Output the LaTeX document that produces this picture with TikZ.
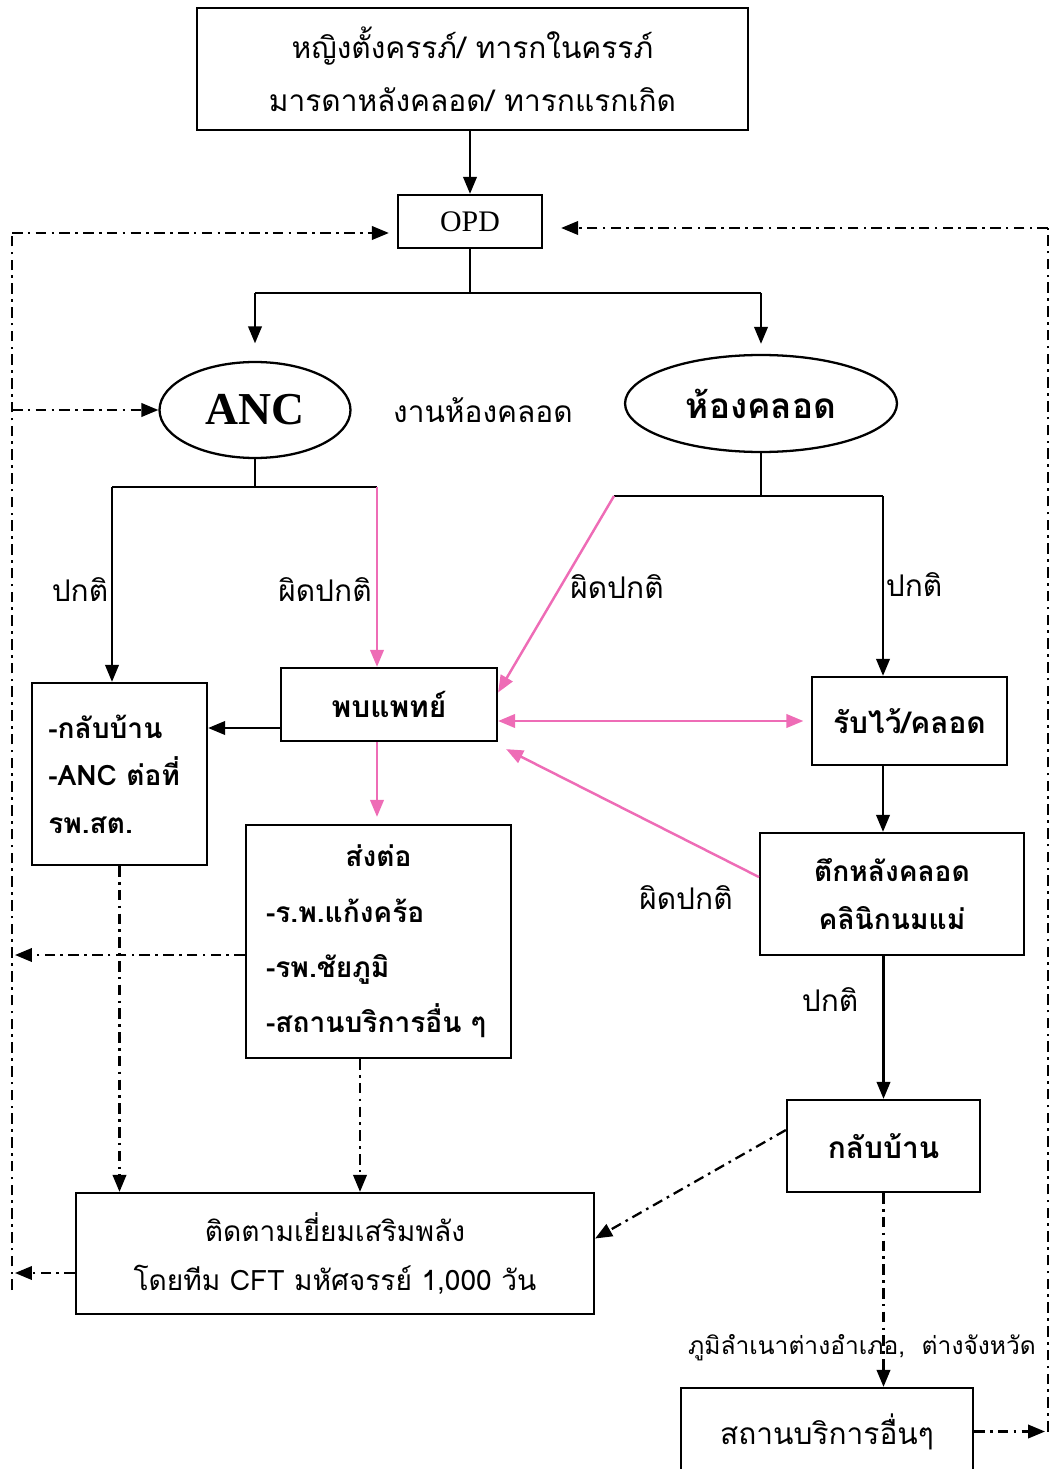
\documentclass[tikz,border=0pt]{standalone}
\usepackage{fontspec}
\setmainfont[Script=Thai]{Loma}
\newfontfamily\romanfont{Liberation Serif}
\usetikzlibrary{arrows.meta,shapes.geometric}
\definecolor{pinkline}{RGB}{238,108,182}

\tikzset{
  box/.style={draw, line width=1.3pt, inner sep=4pt, align=center},
  txt/.style={font=\fontsize{17}{28}\selectfont},
  arr/.style={-{Triangle[length=0.34cm,width=0.27cm]}},
  pinkarr/.style={draw=pinkline, line width=1.4pt, -{Triangle[length=0.34cm,width=0.27cm]}, pinkline},
  dd/.style={line width=1.3pt, dash pattern=on 6pt off 3pt on 1.5pt off 3pt},
  ddarr/.style={dd, -{Triangle[length=0.34cm,width=0.27cm]}},
}

\begin{document}
\begin{tikzpicture}[
  x=0.02cm, y=-0.02cm, line width=1.3pt
]
  \useasboundingbox (0,0) rectangle (1052,1469);

  % boxes
  \node[box, txt, minimum width=11.02cm, minimum height=2.44cm,
        font=\fontsize{17}{30}\selectfont] (top) at (472.5,69)
        {หญิงตั้งครรภ์/ ทารกในครรภ์\\มารดาหลังคลอด/ ทารกแรกเกิด};
  \node[box, minimum width=2.88cm, minimum height=1.06cm,
        font=\romanfont\fontsize{17}{20}\selectfont] (opd) at (470,221.5) {OPD};
  \node[draw, ellipse, line width=1.3pt, minimum width=3.82cm, minimum height=1.92cm,
        font=\romanfont\bfseries\fontsize{26}{30}\selectfont] (anc) at (255,410) {ANC};
  \node[txt] (ward label) at (483,410) {งานห้องคลอด};
  \node[draw, ellipse, line width=1.3pt, minimum width=5.44cm, minimum height=1.94cm,
        txt, font=\bfseries\fontsize{20}{24}\selectfont] (lr) at (761,403.5) {ห้องคลอด};

  \node[box, txt, align=left, minimum width=3.5cm, minimum height=3.64cm,
        text width=2.85cm, font=\bfseries\fontsize{16}{27}\selectfont] (home) at (119.5,774)
        {-กลับบ้าน\\-ANC ต่อที่\\รพ.สต.};
  \node[box, minimum width=4.32cm, minimum height=1.46cm,
        font=\bfseries\fontsize{17}{24}\selectfont] (doc) at (389,704.5) {พบแพทย์};
  \node[box, minimum width=3.9cm, minimum height=1.76cm,
        font=\bfseries\fontsize{17}{24}\selectfont] (admit) at (909.5,721) {รับไว้/คลอด};
  \node[box, minimum width=5.28cm, minimum height=2.44cm,
        font=\bfseries\fontsize{16}{27}\selectfont] (postnatal) at (892,894)
        {ตึกหลังคลอด\\คลินิกนมแม่};
  \node[box, minimum width=5.3cm, minimum height=4.66cm, text width=4.5cm, align=left,
        font=\bfseries\fontsize{16}{31.5}\selectfont] (refer) at (378.5,941.5)
        {\centering ส่งต่อ\par\raggedright -ร.พ.แก้งคร้อ\\-รพ.ชัยภูมิ\\-สถานบริการอื่น ๆ};
  \node[box, minimum width=3.86cm, minimum height=1.84cm,
        font=\bfseries\fontsize{17}{24}\selectfont] (home2) at (883.5,1146) {กลับบ้าน};
  \node[box, minimum width=10.36cm, minimum height=2.42cm,
        font=\fontsize{16}{28}\selectfont] (follow) at (335,1253.5)
        {ติดตามเยี่ยมเสริมพลัง\\โดยทีม CFT มหัศจรรย์ 1,000 วัน};
  \node[box, minimum width=5.84cm, minimum height=1.74cm,
        font=\fontsize{17}{24}\selectfont] (other) at (827,1431.5) {สถานบริการอื่นๆ};

  % labels
  \node[txt] (normal1) at (80,590) {ปกติ};
  \node[txt] (abnormal1) at (325,590) {ผิดปกติ};
  \node[txt] (abnormal2) at (617,587) {ผิดปกติ};
  \node[txt] (normal2) at (914,585) {ปกติ};
  \node[txt] (abnormal3) at (686,898) {ผิดปกติ};
  \node[txt] (normal3) at (830,1000) {ปกติ};
  \node[font=\fontsize{14}{20}\selectfont] (hometown) at (862,1348)
        {ภูมิลำเนาต่างอำเภอ,\ \ ต่างจังหวัด};

  % junctions
  \coordinate (opdfork) at (470,293);
  \coordinate (forkL) at (255,293);
  \coordinate (forkR) at (761,293);
  \coordinate (ancfork) at (255,487);
  \coordinate (ancL) at (112,487);
  \coordinate (ancR) at (377,487);
  \coordinate (lrfork) at (761,496);
  \coordinate (lrL) at (614,496);
  \coordinate (lrR) at (883,496);
  \coordinate (lt) at (12,233);
  \coordinate (lb) at (12,1290);
  \coordinate (rt) at (1048,228);
  \coordinate (rb) at (1048,1431.5);

  % main flow
  \draw[arr] (opd.north |- top.south) -- (opd.north);
  \draw (opd.south) -- (opdfork);
  \draw (forkL) -- (forkR);
  \draw[arr, shorten >=0.35cm] (forkL) -- (forkL |- anc.north);
  \draw[arr, shorten >=0.2cm] (forkR) -- (forkR |- lr.north);

  \draw (anc.south) -- (ancfork);
  \draw (ancL) -- (ancR);
  \draw[arr] (ancL) -- (ancL |- home.north);
  \draw[pinkarr] (ancR) -- (ancR |- doc.north);

  \draw (lr.south) -- (lrfork);
  \draw (lrL) -- (lrR);
  \draw[arr] (lrR) -- (lrR |- admit.north);
  \draw[pinkarr] (lrL) -- ([yshift=0.24cm]doc.east);

  \coordinate (docL) at ([yshift=-0.47cm]doc.west);
  \draw[arr] (docL) -- (docL -| home.east);
  \draw[pinkarr, {Triangle[length=0.34cm,width=0.27cm]}-{Triangle[length=0.34cm,width=0.27cm]},
        shorten >=0.15cm] (admit.west -| doc.east) -- (admit.west);
  \draw[arr] (admit.south -| lrR) -- (postnatal.north -| lrR);
  \draw[pinkarr] ([yshift=0.34cm]postnatal.west) -- ([xshift=0.16cm,yshift=-0.14cm]doc.south east);
  \draw[pinkarr, shorten >=0.14cm] (doc.south -| ancR) -- (refer.north -| ancR);
  \draw[arr] (home2.north |- postnatal.south) -- (home2.north);

  % follow-up (dash dot)
  \draw[ddarr] ([yshift=0.32cm]home2.west) -- ([yshift=0.3cm]follow.east);
  \draw[ddarr] (home.south) -- (home.south |- follow.north);
  \coordinate (referB) at ([xshift=-0.37cm]refer.south);
  \draw[ddarr] (referB) -- (referB |- follow.north);
  \draw[ddarr] (home2.south) -- (home2.south |- other.north);
  \draw[ddarr, shorten >=0.06cm] (other.east) -- (rb);

  % return loops
  \draw[dd] (lb) -- (lt);
  \draw[ddarr, shorten >=0.16cm] (lt) -- (opd.west |- lt);
  \draw[ddarr] (lt |- anc.west) -- (anc.west);
  \coordinate (referL) at ([yshift=-0.27cm]refer.west);
  \draw[ddarr, shorten >=0.06cm] (referL) -- (referL -| lt);
  \coordinate (followL) at ([yshift=-0.39cm]follow.west);
  \draw[ddarr, shorten >=0.06cm] (followL) -- (followL -| lt);
  \draw[dd] (rb) -- (rt);
  \draw[ddarr, shorten >=0.36cm] (rt) -- (opd.east |- rt);
\end{tikzpicture}
\end{document}
